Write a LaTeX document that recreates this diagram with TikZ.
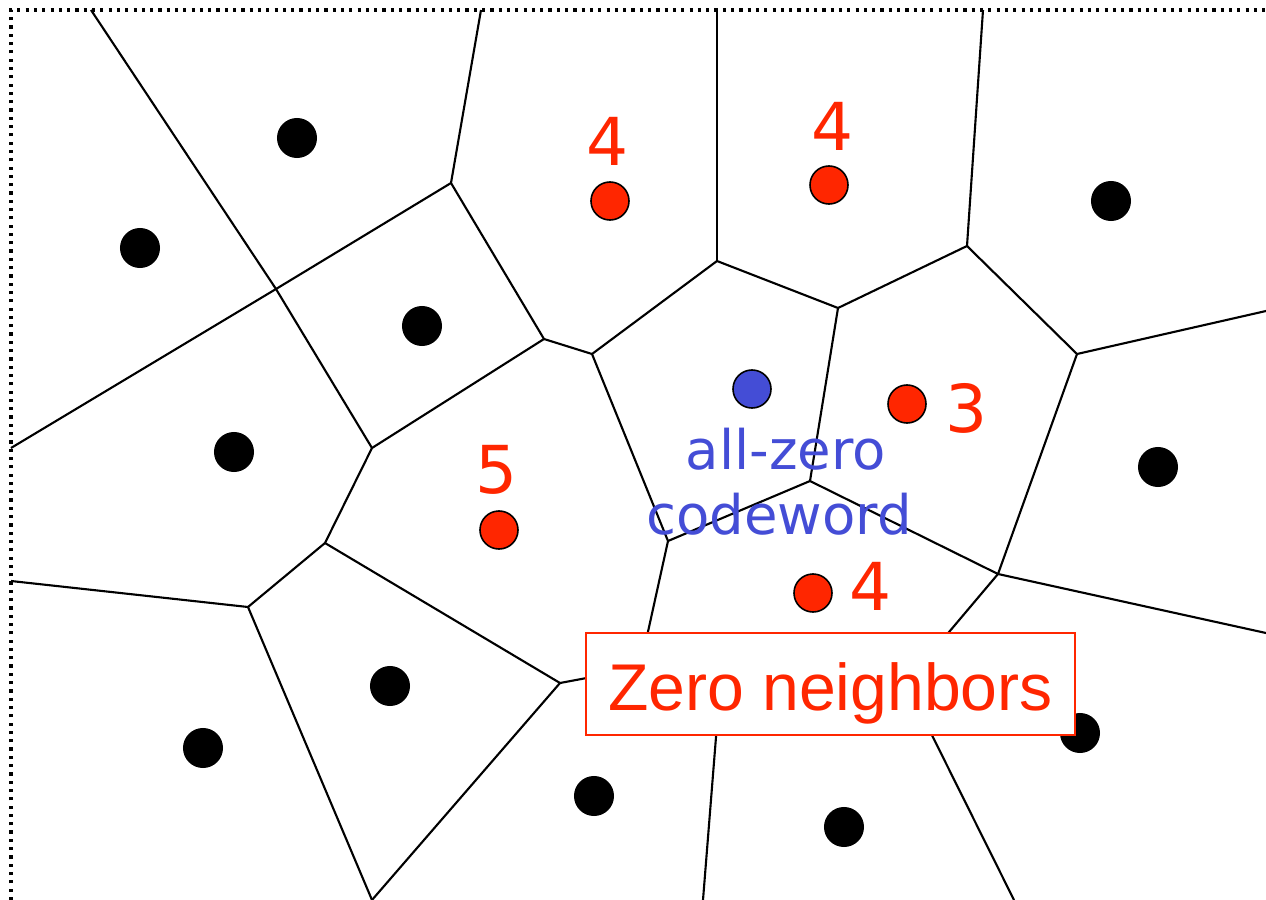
\documentclass[tikz,border=0pt]{standalone}
\usepackage{fontspec}
\setmainfont{Liberation Sans}
\newfontfamily\dvs{DejaVu Sans}
\definecolor{zred}{RGB}{255,38,0}
\definecolor{zblue}{RGB}{68,77,214}
\begin{document}
\begin{tikzpicture}[x=0.01cm,y=-0.01cm,
  edge/.style={line width=0.6pt, black},
  frame/.style={line width=1pt, dash pattern=on 0.9pt off 1.46pt},
  bdot/.style={circle, fill=black, minimum size=0.4cm, inner sep=0pt},
  rdot/.style={circle, fill=zred, draw=black, line width=0.45pt, minimum size=0.38cm, inner sep=0pt},
  zdot/.style={circle, fill=zblue, draw=black, line width=0.45pt, minimum size=0.38cm, inner sep=0pt},
  num/.style={text=zred, font=\dvs\fontsize{18.8pt}{22pt}\selectfont, anchor=base, inner sep=0pt},
  blue lbl/.style={text=zblue, font=\dvs\fontsize{15.5pt}{18pt}\selectfont, anchor=base, inner sep=0pt},
  callout/.style={draw=zred, line width=0.45pt, fill=white, text=zred,
    font=\fontsize{18.8pt}{22pt}\selectfont, minimum width=4.89cm, minimum height=1.02cm,
    text height=0.66cm, text depth=0.14cm, inner sep=0pt}]
\useasboundingbox (0,0) rectangle (1266,900);
\clip (0,0) rectangle (1266,900);
% frame
\draw[frame] (11,900) -- (11,10) -- (1266,10);
% border end points
\coordinate (T1) at (91,10);
\coordinate (T2) at (481,10);
\coordinate (T3) at (717,10);
\coordinate (T4) at (983,10);
\coordinate (L1) at (11,448);
\coordinate (L2) at (11,581);
\coordinate (R1) at (1266,311);
\coordinate (R2) at (1266,633);
\coordinate (B1) at (372,900);
\coordinate (B2) at (703,900);
\coordinate (B3) at (1014,900);
% inner vertices
\coordinate (V1) at (276,289);
\coordinate (V2) at (451,183);
\coordinate (V3) at (544,339);
\coordinate (V4) at (592,354);
\coordinate (V5) at (372,448);
\coordinate (V6) at (325,543);
\coordinate (V7) at (248,607);
\coordinate (V8) at (560,683);
\coordinate (V10) at (668,541);
\coordinate (V11) at (717,261);
\coordinate (V12) at (838,308);
\coordinate (V13) at (967,246);
\coordinate (V14) at (1077,354);
\coordinate (V15) at (998,574);
\coordinate (V16) at (810,481);
\coordinate (H1) at (640,668);
\coordinate (H2) at (906,683);
\coordinate (H3) at (718,712);
% Voronoi edges
\draw[edge] (T1) -- (V1);
\draw[edge] (V1) -- (L1);
\draw[edge] (V1) -- (V2);
\draw[edge] (V2) -- (T2);
\draw[edge] (V2) -- (V3);
\draw[edge] (V3) -- (V5);
\draw[edge] (V1) -- (V5);
\draw[edge] (V3) -- (V4);
\draw[edge] (V4) -- (V11);
\draw[edge] (V11) -- (T3);
\draw[edge] (V11) -- (V12);
\draw[edge] (V12) -- (V13);
\draw[edge] (V13) -- (T4);
\draw[edge] (V13) -- (V14);
\draw[edge] (V14) -- (R1);
\draw[edge] (V14) -- (V15);
\draw[edge] (V15) -- (R2);
\draw[edge] (V15) -- (V16);
\draw[edge] (V16) -- (V12);
\draw[edge] (V16) -- (V10);
\draw[edge] (V10) -- (V4);
\draw[edge] (V10) -- (H1);
\draw[edge] (V15) -- (H2);
\draw[edge] (H2) -- (B3);
\draw[edge] (H2) -- (H3);
\draw[edge] (H3) -- (B2);
\draw[edge] (H3) -- (H1);
\draw[edge] (H1) -- (V8);
\draw[edge] (V8) -- (V6);
\draw[edge] (V8) -- (B1);
\draw[edge] (V6) -- (V5);
\draw[edge] (V6) -- (V7);
\draw[edge] (V7) -- (L2);
\draw[edge] (V7) -- (B1);
% black codewords
\node[bdot] (b1) at (297,138) {};
\node[bdot] (b2) at (140,248) {};
\node[bdot] (b3) at (422,326) {};
\node[bdot] (b4) at (234,452) {};
\node[bdot] (b5) at (1111,201) {};
\node[bdot] (b6) at (1158,467) {};
\node[bdot] (b7) at (390,686) {};
\node[bdot] (b8) at (203,748) {};
\node[bdot] (b9) at (594,796) {};
\node[bdot] (b10) at (844,827) {};
\node[bdot] (b11) at (1080,733) {};
% red neighbours
\node[rdot] (r1) at (610,201) {};
\node[rdot] (r2) at (829,185) {};
\node[rdot] (r3) at (907,404) {};
\node[rdot] (r4) at (499,530) {};
\node[rdot] (r5) at (813,593) {};
% all-zero codeword
\node[zdot] (z) at (752,389) {};
% labels
\node[num] (n1) at (608,165) {4};
\node[num] (n2) at (833,150) {4};
\node[num] (n3) at (967,432) {3};
\node[num] (n4) at (497,493) {5};
\node[num] (n5) at (871,610) {4};
\node[blue lbl] (zl1) at (786,469) {all-zero};
\node[blue lbl] (zl2) at (779,534) {codeword};
% callout box
\node[callout] (box) at (830.5,684) {Zero neighbors};
\end{tikzpicture}
\end{document}
